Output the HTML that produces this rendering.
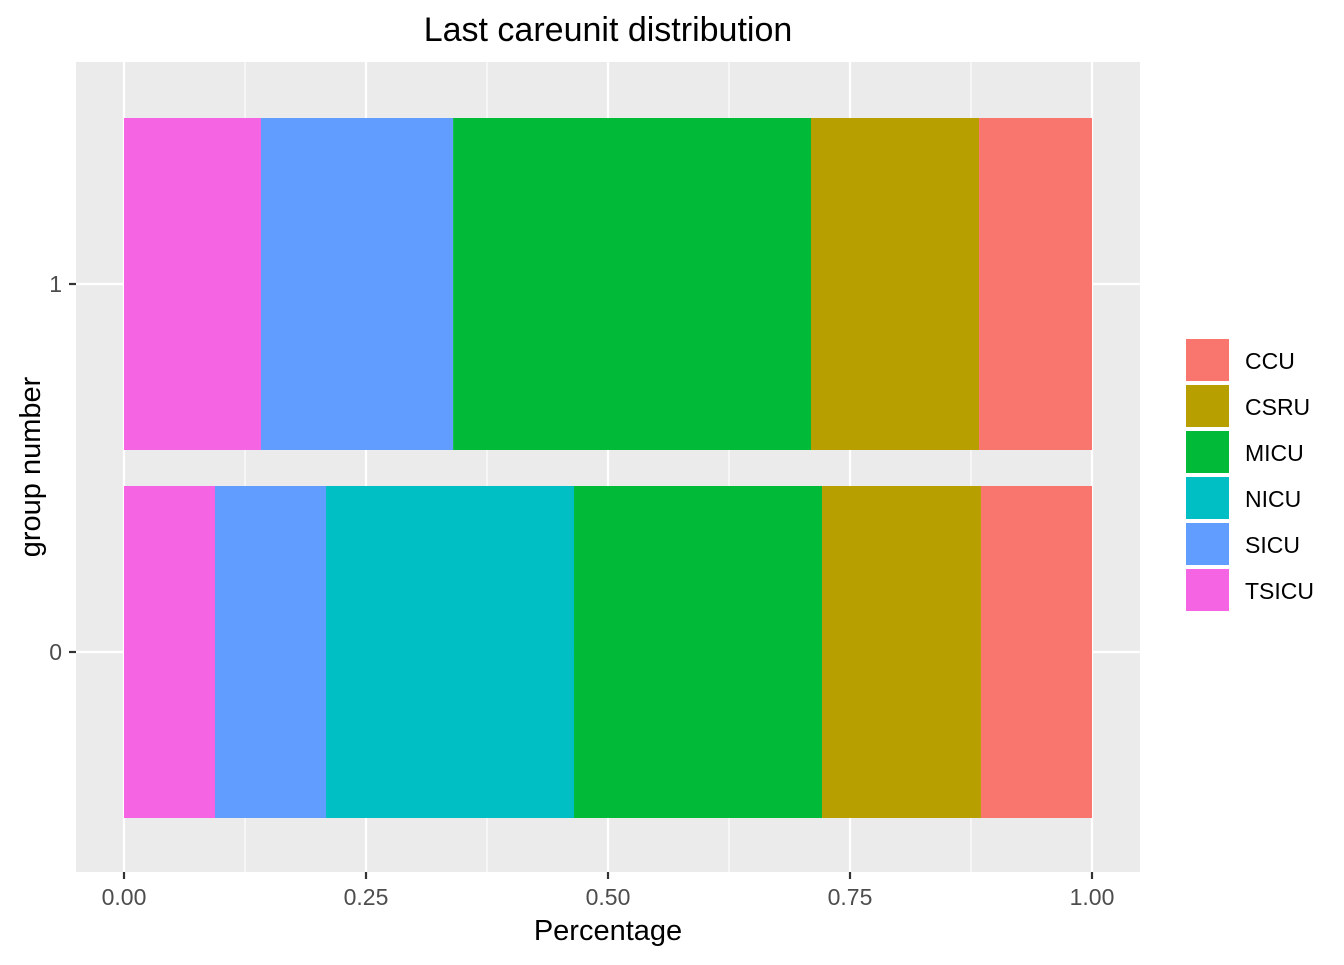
<!DOCTYPE html>
<html><head><meta charset="utf-8"><style>
body{margin:0;background:#fff;font-family:"Liberation Sans",Arial,sans-serif}
</style></head><body>
<svg id="chart" width="1344" height="960" xmlns="http://www.w3.org/2000/svg" font-family="Liberation Sans, Arial, sans-serif">
<rect width="1344" height="960" fill="#fff"/>
<rect x="76" y="62" width="1064" height="810" fill="#ebebeb"/>
<g id="grid"></g>
<g id="bars"></g>
<g id="axes"></g>
<text x="608" y="41" text-anchor="middle" font-size="34" fill="#000">Last careunit distribution</text>
<text x="608" y="940" text-anchor="middle" font-size="29" fill="#000">Percentage</text>
<text transform="translate(40,467) rotate(-90)" text-anchor="middle" font-size="29" fill="#000">group number</text>
<g id="legend"></g>
</svg>
<script>
const groups = ["0","1"];
const units = ["TSICU","SICU","NICU","MICU","CSRU","CCU"];
const colors = {CCU:"#F8766D",CSRU:"#B79F00",MICU:"#00BA38",NICU:"#00BFC4",SICU:"#619CFF",TSICU:"#F564E3"};
const share0 = [0.094,0.1147,0.2562,0.2562,0.1642,0.1147];
const share1 = [0.1415,0.1985,0,0.3697,0.1736,0.1167];
const xTicks = [0,0.25,0.5,0.75,1];
const xTickLabels = ["0.00","0.25","0.50","0.75","1.00"];
const legendOrder = ["CCU","CSRU","MICU","NICU","SICU","TSICU"];

const NS="http://www.w3.org/2000/svg";
const X=v=>124+v*968;
const Y=g=>652-(g)*368;
function mk(tag,attrs,parent){const e=document.createElementNS(NS,tag);for(const k in attrs)e.setAttribute(k,attrs[k]);parent.appendChild(e);return e;}
const grid=document.getElementById('grid'),bars=document.getElementById('bars'),axes=document.getElementById('axes'),legend=document.getElementById('legend');
for(let i=0;i<xTicks.length-1;i++){
  const m=(xTicks[i]+xTicks[i+1])/2;
  const l=mk('line',{x1:X(m),x2:X(m),y1:62,y2:872,stroke:'#fff','stroke-width':1.1},grid);
  
  
}
xTicks.forEach((t,i)=>{
  const l=mk('line',{x1:X(t),x2:X(t),y1:62,y2:872,stroke:'#fff','stroke-width':2.2},grid);
  
  
  const tk=mk('line',{x1:X(t),x2:X(t),y1:872,y2:879,stroke:'#333','stroke-width':2.2},axes);
  
  
  const tx=mk('text',{x:X(t),y:905,'text-anchor':'middle','font-size':23,fill:'#4d4d4d'},axes);
  tx.textContent=xTickLabels[i];
  
  
});
groups.forEach((g,gi)=>{
  const y=Y(gi);
  const l=mk('line',{x1:76,x2:1140,y1:y,y2:y,stroke:'#fff','stroke-width':2.2},grid);
  
  
  const tk=mk('line',{x1:69,x2:76,y1:y,y2:y,stroke:'#333','stroke-width':2.2},axes);
  
  
  const tx=mk('text',{x:62,y:y+8,'text-anchor':'end','font-size':23,fill:'#4d4d4d'},axes);
  tx.textContent=g;
  
  
  const s=gi===0?share0:share1;
  let c=0;
  units.forEach((u,ui)=>{
    if(s[ui]<=0)return;
    const r=mk('rect',{x:X(c),y:y-166,width:X(c+s[ui])-X(c),height:332,fill:colors[u]},bars);
    
    
    c+=s[ui];
  });
});
legendOrder.forEach((u,i)=>{
  const y=339+i*46;
  const r=mk('rect',{x:1186,y:y,width:43,height:42,fill:colors[u]},legend);
  
  
  const t=mk('text',{x:1245,y:y+30,'font-size':23,fill:'#000'},legend);
  t.textContent=u;
  
  
});
</script>
</body></html>
